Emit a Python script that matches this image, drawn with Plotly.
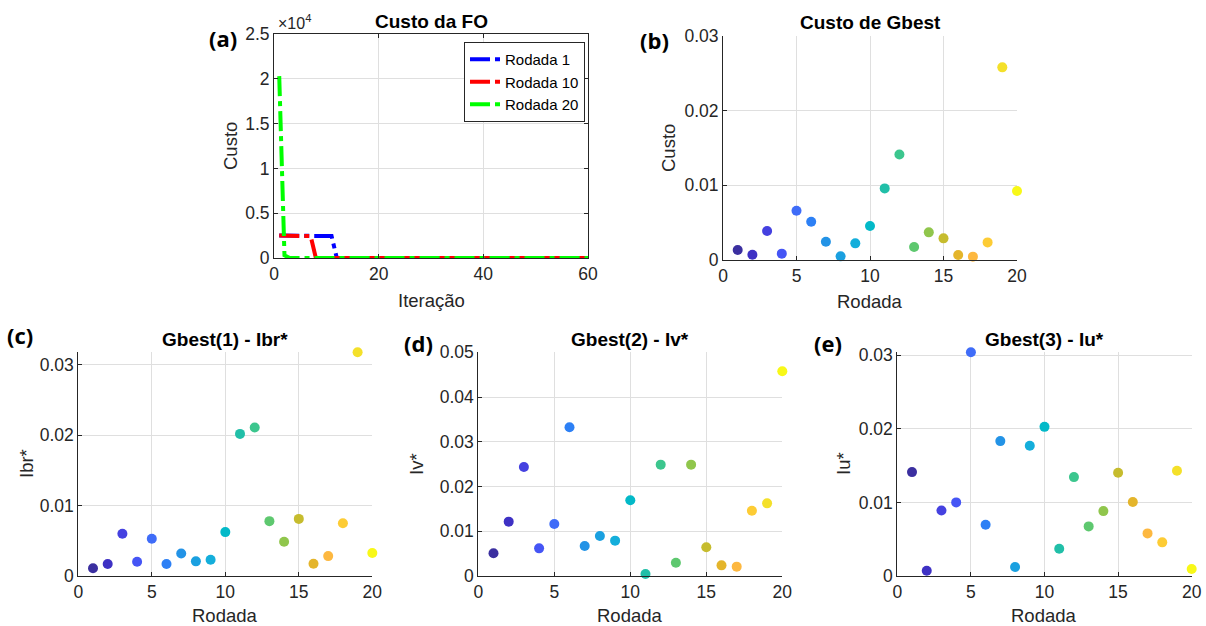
import plotly.graph_objects as go

W, H = 1206, 626

# ---------------- data ----------------
# (a) cost of objective function per iteration (breakpoints of the curves)
iter_r1 = [1, 11, 12, 60]
cost_r1 = [2500, 2450, 0.0013, 0.0013]
iter_r10 = [1, 7, 8, 60]
cost_r10 = [2500, 2450, 0.0046, 0.0046]
iter_r20 = [1, 2, 3, 60]
cost_r20 = [20300, 300, 0.0092, 0.0092]
series_names = ["Rodada 1", "Rodada 10", "Rodada 20"]

# (b)-(e) per run
rodada = [1, 2, 3, 4, 5, 6, 7, 8, 9, 10, 11, 12, 13, 14, 15, 16, 17, 18, 19, 20]
custo_gbest = [0.00134, 0.00071, 0.00388, 0.00085, 0.00660, 0.00513, 0.00245, 0.00049, 0.00223, 0.00455,
               0.00959, 0.01413, 0.00174, 0.00370, 0.00290, 0.00067, 0.00045, 0.00236, 0.02580, 0.00923]
ibr = [0.00109, 0.00170, 0.00600, 0.00203, 0.00529, 0.00170, 0.00321, 0.00208, 0.00231, 0.00624,
       0.02020, 0.02110, 0.00780, 0.00487, 0.00812, 0.00175, 0.00283, 0.00751, 0.03180, 0.00326]
iv = [0.00507, 0.01215, 0.02437, 0.00618, 0.01162, 0.03323, 0.00670, 0.00894, 0.00790, 0.01692,
      0.00045, 0.02489, 0.00298, 0.02489, 0.00641, 0.00238, 0.00209, 0.01460, 0.01624, 0.04575]
iu = [0.01412, 0.00072, 0.00891, 0.01000, 0.03040, 0.00697, 0.01833, 0.00122, 0.01769, 0.02027,
      0.00371, 0.01344, 0.00674, 0.00882, 0.01403, 0.01005, 0.00579, 0.00457, 0.01430, 0.00095]

# ticks
a_xticks = [0, 20, 40, 60]
a_yticks = [0, 5000, 10000, 15000, 20000, 25000]
a_yticktext = ["0", "0.5", "1", "1.5", "2", "2.5"]
r_xticks = [0, 5, 10, 15, 20]
y3_ticks = [0, 0.01, 0.02, 0.03]
y3_text = ["0", "0.01", "0.02", "0.03"]
y5_ticks = [0, 0.01, 0.02, 0.03, 0.04, 0.05]
y5_text = ["0", "0.01", "0.02", "0.03", "0.04", "0.05"]

# ---------------- styles ----------------
FONT = "Liberation Sans, Arial, sans-serif"
AX = "#262626"
GRID = "#dfdfdf"
line_colors = ["#0000ff", "#ff0000", "#00ff00"]
parula = ["#3b2fa0", "#3e31c4", "#4541e0", "#4555f5", "#3f6cf8", "#2d80f5", "#2393e6", "#1aa0e0",
          "#14aedb", "#03b9c8", "#21bfa8", "#3cc68e", "#5ec86f", "#90c64c", "#c6bc2e", "#e4b52b",
          "#fdb840", "#fdcc35", "#f4e02a", "#f8f818"]
colorscale = [[i / (len(parula) - 1), c] for i, c in enumerate(parula)]


def px_x(p):
    return p / W


def px_y(p):
    return 1 - p / H


fig = go.Figure()

for xs, ys, name, col in zip([iter_r1, iter_r10, iter_r20], [cost_r1, cost_r10, cost_r20],
                             series_names, line_colors):
    fig.add_trace(go.Scatter(x=xs, y=ys, mode="lines", name=name, xaxis="x", yaxis="y",
                             cliponaxis=False,
                             line=dict(color=col, width=4, dash="20px,5px,5px,5px")))

for k, vals in zip(["2", "3", "4", "5"], [custo_gbest, ibr, iv, iu]):
    fig.add_trace(go.Scatter(x=rodada, y=vals, mode="markers", showlegend=False,
                             xaxis="x" + k, yaxis="y" + k, cliponaxis=False,
                             marker=dict(size=10, color=rodada, colorscale=colorscale,
                                         cmin=1, cmax=20, line=dict(width=0))))


def axis(domain, rng, tickvals, ticktext=None, mirror=False, anchor=None):
    d = dict(domain=domain, range=rng, tickvals=tickvals, showgrid=True, gridcolor=GRID,
             gridwidth=1, zeroline=False, showline=True, linecolor=AX, linewidth=1,
             ticks="inside", ticklen=4, tickcolor=AX, tickfont=dict(family=FONT, size=17.5, color=AX),
             mirror="ticks" if mirror else False, anchor=anchor, fixedrange=True, automargin=False)
    if ticktext is not None:
        d["ticktext"] = ticktext
    return d


yb = [px_y(576), px_y(352.3)]
fig.update_layout(
    width=W, height=H, margin=dict(l=0, r=0, t=0, b=0, pad=0, autoexpand=False),
    paper_bgcolor="white", plot_bgcolor="white",
    xaxis=axis([px_x(274), px_x(588)], [0, 60], a_xticks, mirror=True, anchor="y"),
    yaxis=axis([px_y(258), px_y(34)], [0, 25000], a_yticks, a_yticktext, mirror=True, anchor="x"),
    xaxis2=axis([px_x(723), px_x(1017)], [0, 20], r_xticks, anchor="y2"),
    yaxis2=axis([px_y(260), px_y(36)], [0, 0.03], y3_ticks, y3_text, anchor="x2"),
    xaxis3=axis([px_x(78.3), px_x(372.3)], [0, 20], r_xticks, anchor="y3"),
    yaxis3=axis(yb, [0, max(ibr)], y3_ticks, y3_text, anchor="x3"),
    xaxis4=axis([px_x(478.3), px_x(782.3)], [0, 20], r_xticks, anchor="y4"),
    yaxis4=axis(yb, [0, 0.05], y5_ticks, y5_text, anchor="x4"),
    xaxis5=axis([px_x(897.3), px_x(1191.7)], [0, 20], r_xticks, anchor="y5"),
    yaxis5=axis(yb, [0, max(iu)], y3_ticks, y3_text, anchor="x5"),
    legend=dict(x=px_x(464), y=px_y(42), xanchor="left", yanchor="top",
                bgcolor="white", bordercolor=AX, borderwidth=1,
                font=dict(family=FONT, size=15, color="black"),
                itemwidth=30, tracegroupgap=0),
)

ann = []


def text(x, y, s, size=16, color=AX, bold=False, angle=0, xanchor="center", family=FONT):
    ann.append(dict(x=px_x(x), y=px_y(y), xref="paper", yref="paper", showarrow=False,
                    text=("<b>%s</b>" % s) if bold else s, textangle=angle,
                    xanchor=xanchor, yanchor="middle",
                    font=dict(family=family, size=size, color=color)))


# titles
text(431, 21, "Custo da FO", 19, "black", True)
text(870, 22, "Custo de Gbest", 19, "black", True)
text(225, 340, "Gbest(1) - Ibr*", 19, "black", True)
text(630, 340, "Gbest(2) - Iv*", 19, "black", True)
text(1044, 340, "Gbest(3) - Iu*", 19, "black", True)
# axis titles
text(431, 300, "Iteração", 18.5)
text(230, 146, "Custo", 18.5, angle=-90)
text(870, 301, "Rodada", 18.5)
text(669, 148, "Custo", 18.5, angle=-90)
text(225, 615, "Rodada", 18.5)
text(26, 464, "Ibr*", 18.5, angle=-90)
text(630, 615, "Rodada", 18.5)
text(416, 464, "Iv*", 18.5, angle=-90)
text(1044, 615, "Rodada", 18.5)
text(843, 464, "Iu*", 18.5, angle=-90)
# exponent
text(276, 22, "×10<sup>4</sup>", 16, xanchor="left")
# panel labels
PL = "Open Sans, Noto Sans, sans-serif"
text(223, 38, "(a)", 22, "black", True, family=PL)
text(654, 40, "(b)", 22, "black", True, family=PL)
text(20, 335, "(c)", 22, "black", True, family=PL)
text(418, 343, "(d)", 22, "black", True, family=PL)
text(828, 343, "(e)", 22, "black", True, family=PL)

fig.update_layout(annotations=ann)
fig.write_html("out.html", config={"displayModeBar": False},
               post_script="document.body.style.margin='0';document.body.style.overflow='hidden';")
